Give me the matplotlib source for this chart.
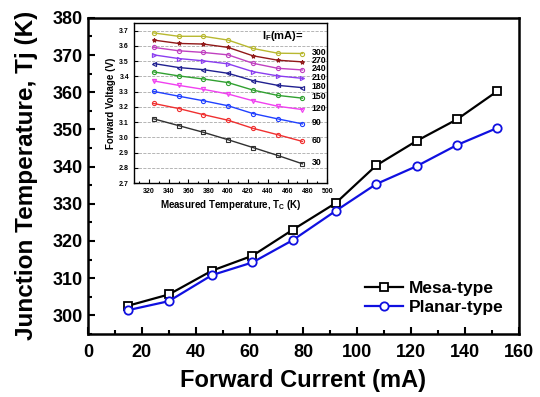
import numpy as np
import matplotlib.pyplot as plt
from matplotlib.ticker import MultipleLocator

plt.rcParams['font.family'] = ['Liberation Sans', 'DejaVu Sans']
plt.rcParams['font.weight'] = 'bold'

# main plot data
current = [15, 30, 46, 61, 76, 92, 107, 122, 137, 152]
mesa = [302.6, 305.6, 312.0, 316.0, 323.0, 330.2, 340.3, 346.9, 352.7, 360.3]
planar = [301.4, 303.8, 310.8, 314.2, 320.2, 328.1, 335.3, 340.1, 345.8, 350.4]

# inset data
temp = [325, 350, 375, 400, 425, 450, 475]
if_labels = ['300', '270', '240', '210', '180', '150', '120', '90', '60', '30']
vf = [
    [3.685, 3.663, 3.663, 3.638, 3.583, 3.552, 3.550],
    [3.638, 3.616, 3.612, 3.590, 3.535, 3.506, 3.495],
    [3.590, 3.568, 3.557, 3.541, 3.486, 3.453, 3.442],
    [3.541, 3.517, 3.502, 3.482, 3.431, 3.403, 3.387],
    [3.484, 3.458, 3.444, 3.420, 3.372, 3.341, 3.326],
    [3.429, 3.403, 3.383, 3.359, 3.310, 3.275, 3.257],
    [3.370, 3.341, 3.315, 3.284, 3.240, 3.204, 3.182],
    [3.301, 3.270, 3.240, 3.207, 3.156, 3.121, 3.088],
    [3.222, 3.189, 3.149, 3.112, 3.059, 3.017, 2.973],
    [3.121, 3.077, 3.033, 2.984, 2.933, 2.881, 2.826],
]
colors = ['#b8b830', '#901818', '#c040c0', '#8a3cf0', '#202090',
          '#30a030', '#f040f0', '#2040ff', '#f03030', '#303030']
markers = ['o', '*', 'o', '>', '<', 'o', 'v', 'o', 'o', 's']

fig = plt.figure(figsize=(5.4, 3.97), dpi=100)
ax = fig.add_axes([0.163, 0.159, 0.798, 0.796])

ax.plot(current, mesa, '-s', color='black', lw=1.6, ms=6, mfc='white', mew=1.3, label='Mesa-type')
ax.plot(current, planar, '-o', color='#1010e0', lw=1.6, ms=6, mfc='white', mew=1.3, label='Planar-type')
ax.set_xlim(0, 160)
ax.set_ylim(295, 380)
ax.xaxis.set_major_locator(MultipleLocator(20))
ax.xaxis.set_minor_locator(MultipleLocator(10))
ax.yaxis.set_major_locator(MultipleLocator(10))
ax.yaxis.set_minor_locator(MultipleLocator(5))
ax.tick_params(which='both', direction='in', width=1.5, labelsize=13)
ax.tick_params(axis='x', pad=7)
ax.tick_params(which='major', length=5)
ax.tick_params(which='minor', length=3)
for s in ax.spines.values():
    s.set_linewidth(1.8)
ax.set_xlabel('Forward Current (mA)', fontsize=17, fontweight='bold', labelpad=6)
ax.set_ylabel('Junction Temperature, Tj (K)', fontsize=17.5, fontweight='bold', labelpad=11)
ax.legend(loc='lower right', frameon=False, fontsize=12.5, handlelength=2.2,
          handletextpad=0.3, labelspacing=0.25, bbox_to_anchor=(1.0, 0.01))

# inset
ins = fig.add_axes([0.248, 0.539, 0.358, 0.403])
for lab, v, c, m in zip(if_labels, vf, colors, markers):
    ins.plot(temp, v, '-', color=c, lw=1.0, marker=m, ms=3, mfc='none', mew=0.8)
    ins.text(temp[-1] + 9, v[-1] + 0.008, lab, fontsize=6.3, fontweight='bold', va='center', ha='left')
ins.text(0.66, 0.9, r'I$_\mathregular{F}$(mA)=', transform=ins.transAxes,
         fontsize=8, fontweight='bold', ha='left')
ins.set_xlim(305, 500)
ins.set_ylim(2.7, 3.75)
ins.xaxis.set_major_locator(MultipleLocator(20))
ins.xaxis.set_minor_locator(MultipleLocator(10))
ins.yaxis.set_major_locator(MultipleLocator(0.1))
ins.yaxis.set_major_formatter(plt.FormatStrFormatter('%.1f'))
ins.grid(axis='y', color='#aaaaaa', ls='--', lw=0.6)
ins.tick_params(which='both', direction='in', labelsize=5, width=0.8)
ins.tick_params(which='major', length=3)
ins.tick_params(which='minor', length=1.5)
for s in ins.spines.values():
    s.set_linewidth(1.0)
ins.set_xlabel(r'Measured Temperature, T$_\mathregular{C}$ (K)', fontsize=7, fontweight='bold', labelpad=2)
ins.set_ylabel('Forward Voltage (V)', fontsize=7, fontweight='bold', labelpad=2)

fig.savefig('out.png', dpi=100)
